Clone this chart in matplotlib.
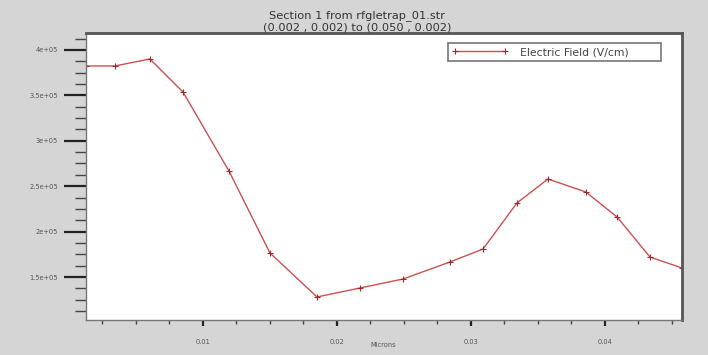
import matplotlib
matplotlib.use("Agg")
import matplotlib.pyplot as plt
from matplotlib.ticker import MultipleLocator, FuncFormatter

# data (microns vs V/cm)
microns = [0.00127, 0.00343, 0.00604, 0.00851, 0.01194, 0.01500, 0.01851,
           0.02172, 0.02493, 0.02843, 0.03090, 0.03343, 0.03575, 0.03858,
           0.04090, 0.04336, 0.04575]
efield = [382400, 382400, 390100, 353700, 266700, 176400, 128000,
          137900, 147800, 166500, 180800, 231500, 257900, 243600,
          216100, 172000, 159900]

title_lines = ["Section 1 from rfgletrap_01.str",
               "(0.002 , 0.002) to (0.050 , 0.002)"]
series_name = "Electric Field (V/cm)"
x_label = "Microns"


def sci_label(v, pos):
    s = "%g" % (v / 1e5)
    return s + "e+05"


fig = plt.figure(figsize=(7.08, 3.55), dpi=100, facecolor="#d5d5d5")
ax = fig.add_axes([86 / 708, 1 - 320 / 355, (682 - 86) / 708, (320 - 33) / 355])
ax.set_facecolor("white")

ax.plot(microns, efield, color="#cc5050", lw=1.0, marker="+", ms=4,
        mec="#a02828", mew=0.8, label=series_name)

ax.set_xlim(0.00127, 0.04575)
ax.set_ylim(102650, 418700)

ax.xaxis.set_major_locator(MultipleLocator(0.01))
ax.xaxis.set_minor_locator(MultipleLocator(0.0025))
ax.yaxis.set_major_locator(MultipleLocator(50000))
ax.yaxis.set_minor_locator(MultipleLocator(12500))
ax.yaxis.set_major_formatter(FuncFormatter(sci_label))
ax.xaxis.set_major_formatter(FuncFormatter(lambda v, p: "%g" % v))

ax.tick_params(axis="y", which="major", length=16, width=1.6, color="#222222",
               labelsize=4.8, labelcolor="#555555", pad=4)
ax.tick_params(axis="y", which="minor", length=8, width=1.0, color="#444444")
ax.tick_params(axis="x", which="major", length=4, width=1.6, color="#222222",
               labelsize=4.8, labelcolor="#555555", pad=10)
ax.tick_params(axis="x", which="minor", length=3, width=1.0, color="#444444")

for side in ["left", "bottom"]:
    ax.spines[side].set_color("#777777")
    ax.spines[side].set_linewidth(1.0)
for side in ["top", "right"]:
    ax.spines[side].set_color("#555555")
    ax.spines[side].set_linewidth(2.0)

fig.text(383 / 708, 1 - 345 / 355, x_label, fontsize=4.8, color="#555555",
         ha="center", va="center")
fig.text(357 / 708, 1 - 16 / 355, title_lines[0], fontsize=8.2, color="#333333",
         ha="center", va="center")
fig.text(357 / 708, 1 - 27 / 355, title_lines[1], fontsize=8.2, color="#333333",
         ha="center", va="center")

leg = ax.legend(loc="upper right", bbox_to_anchor=(666 / 708, 1 - 38 / 355),
                bbox_transform=fig.transFigure, fontsize=7.8, frameon=True,
                fancybox=False, handlelength=5.2, borderpad=0.35,
                handletextpad=1.1, numpoints=2, labelcolor="#444444")
leg.get_frame().set_edgecolor("#555555")
leg.get_frame().set_linewidth(1.2)
leg.texts[0].set_text(series_name + "        ")

fig.savefig("out.png", dpi=100, facecolor=fig.get_facecolor())
